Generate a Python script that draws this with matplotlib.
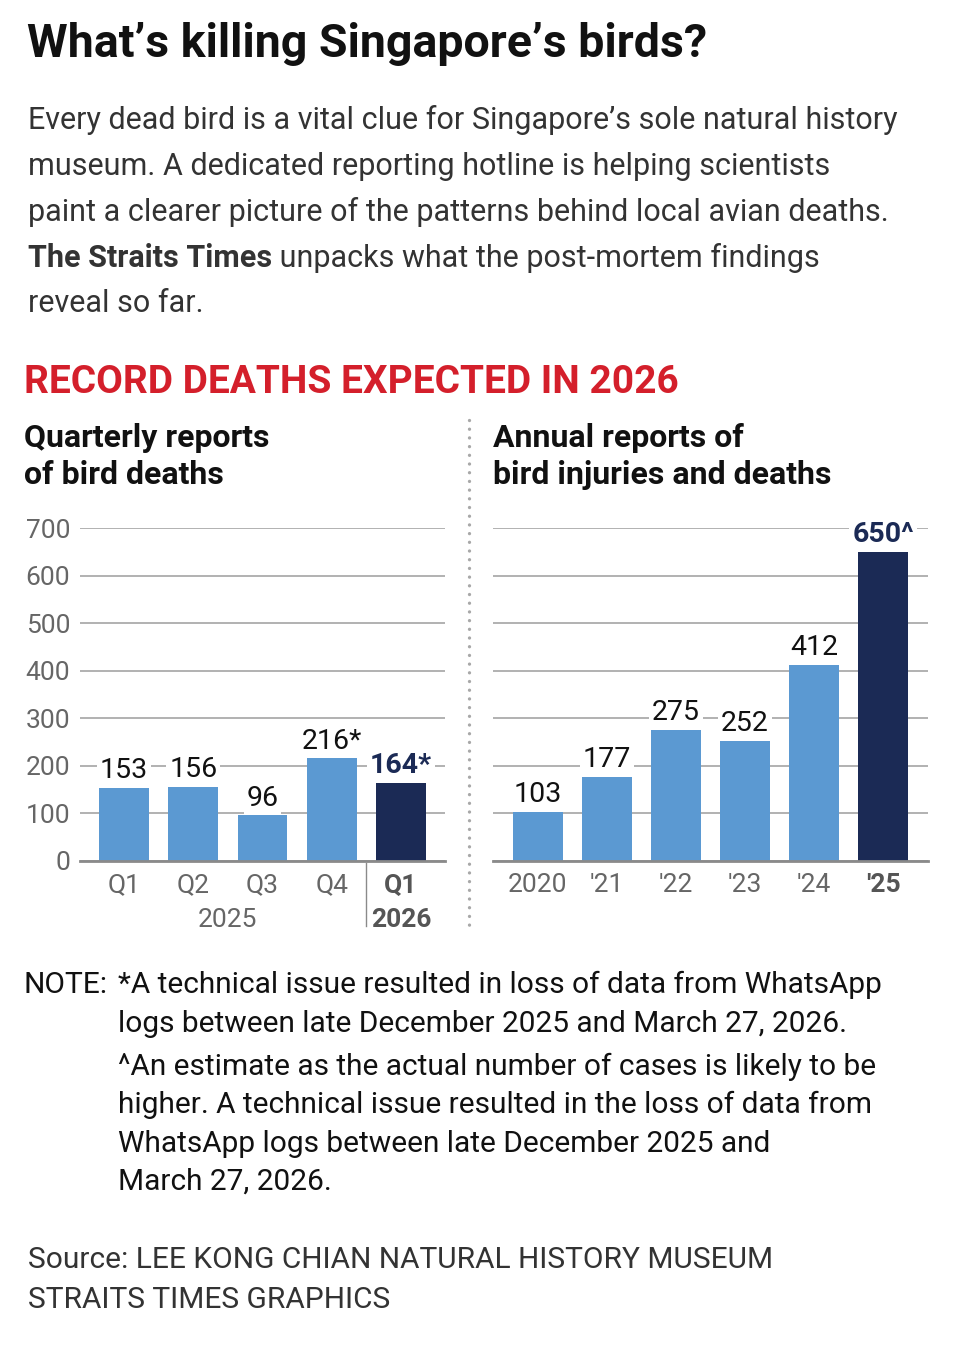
import matplotlib
matplotlib.use("Agg")
import matplotlib.pyplot as plt
from matplotlib.lines import Line2D

# data
quarters = ["Q1", "Q2", "Q3", "Q4", "Q1"]
quarter_values = [153, 156, 96, 216, 164]
quarter_labels = ["153", "156", "96", "216*", "164*"]

years = ["2020", "'21", "'22", "'23", "'24", "'25"]
annual_values = [103, 177, 275, 252, 412, 650]
annual_labels = ["103", "177", "275", "252", "412", "650^"]

yticks = [0, 100, 200, 300, 400, 500, 600, 700]

LIGHT = "#5b99d2"
DARK = "#1b2a55"
GRID = "#9c9c9c"
TICK = "#666666"
BODY = "#333333"

W, H = 960, 1350
plt.rcParams["font.family"] = ["Roboto", "DejaVu Sans"]
fig = plt.figure(figsize=(W / 100, H / 100), dpi=100)


def fx(x):
    return x / W


def fy(y):
    return 1 - y / H


def ftext(x, y, s, **kw):
    return fig.text(fx(x), fy(y), s, va="baseline", ha="left", **kw)


# title and intro
ftext(27, 57, "What\u2019s killing Singapore\u2019s birds?", fontsize=33.5,
      weight="bold", color="#111111")

intro = [
    "Every dead bird is a vital clue for Singapore\u2019s sole natural history",
    "museum. A dedicated reporting hotline is helping scientists",
    "paint a clearer picture of the patterns behind local avian deaths.",
]
for i, line in enumerate(intro):
    ftext(28, 129 + i * 46, line, fontsize=22, color=BODY)

bold = ftext(28, 267, "The Straits Times", fontsize=22, color=BODY, weight="bold")
fig.canvas.draw()
bb = bold.get_window_extent()
fig.text(bb.x1 / W, fy(267), " unpacks what the post-mortem findings",
         fontsize=22, color=BODY, va="baseline")
ftext(28, 312, "reveal so far.", fontsize=22, color=BODY)

ftext(24, 393, "RECORD DEATHS EXPECTED IN 2026", fontsize=28, weight="bold",
      color="#d41f2b")

ftext(24, 447, "Quarterly reports", fontsize=23, weight="bold", color="#111111")
ftext(24, 484, "of bird deaths", fontsize=23, weight="bold", color="#111111")
ftext(493, 447, "Annual reports of", fontsize=23, weight="bold", color="#111111")
ftext(493, 484, "bird injuries and deaths", fontsize=23, weight="bold", color="#111111")

# dotted divider
fig.add_artist(Line2D([fx(469), fx(469)], [fy(420), fy(930)], color="#a8a8a8",
                      lw=2.4, linestyle=(0, (0.01, 2.6)), dash_capstyle="round"))

ax_bottom = fy(861)
ax_h = (861 - 528) / H
ax1 = fig.add_axes([fx(80), ax_bottom, (445 - 80) / W, ax_h])
ax2 = fig.add_axes([fx(493), ax_bottom, (928 - 493) / W, ax_h])


def style(ax, n, pad):
    ax.set_ylim(0, 700)
    ax.set_xlim(-pad, n - 1 + pad)
    ax.set_yticks(yticks)
    ax.grid(axis="y", color=GRID, lw=1.1)
    ax.set_axisbelow(True)
    for s in ["top", "right", "left"]:
        ax.spines[s].set_visible(False)
    ax.spines["bottom"].set_color("#8a8a8a")
    ax.spines["bottom"].set_linewidth(2.0)
    ax.spines["bottom"].set_zorder(3)
    ax.tick_params(length=0, labelsize=19, colors=TICK)
    ax.tick_params(axis="x", pad=9)
    ax.tick_params(axis="y", pad=7)


def bars(ax, values, labels):
    x = list(range(len(values)))
    colors = [LIGHT] * (len(values) - 1) + [DARK]
    ax.bar(x, values, width=0.72, color=colors, zorder=2)
    for i, (v, lab) in enumerate(zip(values, labels)):
        last = i == len(values) - 1
        ax.annotate(lab, (i, v), xytext=(0, 7), textcoords="offset points",
                    ha="center", va="baseline", fontsize=20.5,
                    color=DARK if last else "#111111",
                    weight="bold" if last else "normal", zorder=4,
                    bbox=dict(facecolor="white", edgecolor="none", pad=2))


# left chart: quarterly
style(ax1, len(quarter_values), 0.635)
bars(ax1, quarter_values, quarter_labels)
ax1.set_xticks(range(len(quarters)), quarters)
ax1.get_xticklabels()[-1].set_fontweight("bold")
ax1.get_xticklabels()[-1].set_color("#555555")
xt = ax1.get_xaxis_transform()
ax1.text(1.5, -0.198, "2025", transform=xt, ha="center", va="baseline",
         fontsize=19, color=TICK)
ax1.text(4, -0.198, "2026", transform=xt, ha="center", va="baseline",
         fontsize=19, color="#555555", weight="bold")
ax1.plot([3.5, 3.5], [-0.006, -0.195], transform=xt, color="#8a8a8a", lw=1,
         clip_on=False)

# right chart: annual
style(ax2, len(annual_values), 0.65)
bars(ax2, annual_values, annual_labels)
ax2.set_xticks(range(len(years)), years)
ax2.tick_params(axis="y", labelleft=False)
ax2.get_xticklabels()[-1].set_fontweight("bold")
ax2.get_xticklabels()[-1].set_color("#555555")

# notes
ftext(24, 993, "NOTE:", fontsize=21.5, color="#111111")
notes = [
    (993, "*A technical issue resulted in loss of data from WhatsApp"),
    (1032, "logs between late December 2025 and March 27, 2026."),
    (1075, "^An estimate as the actual number of cases is likely to be"),
    (1113, "higher. A technical issue resulted in the loss of data from"),
    (1152, "WhatsApp logs between late December 2025 and"),
    (1190, "March 27, 2026."),
]
for y, line in notes:
    ftext(118, y, line, fontsize=21.5, color="#111111")

ftext(28, 1268, "Source: LEE KONG CHIAN NATURAL HISTORY MUSEUM", fontsize=21.5, color=BODY)
ftext(28, 1308, "STRAITS TIMES GRAPHICS", fontsize=21.5, color=BODY)

fig.savefig("out.png", dpi=100, facecolor="white")
